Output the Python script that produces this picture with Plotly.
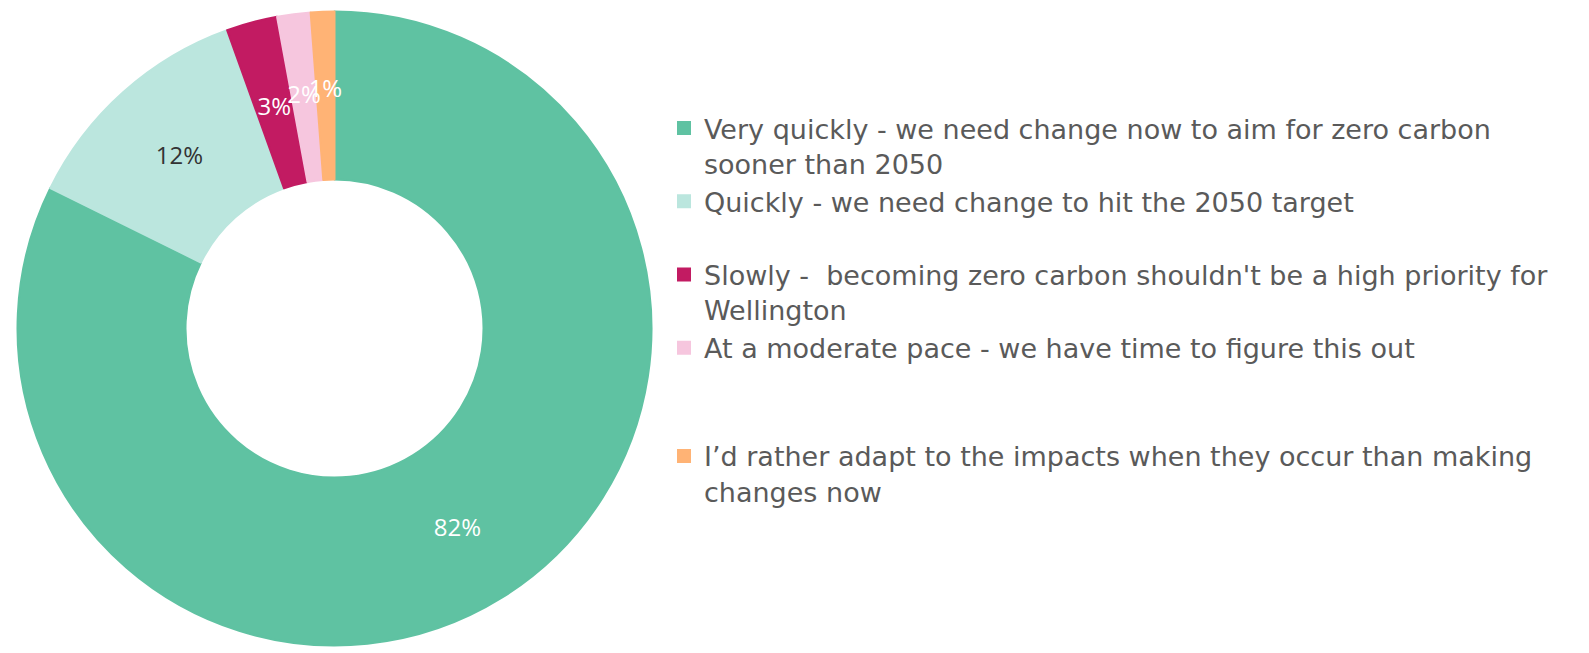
import plotly.graph_objects as go

categories = [
    "Very quickly - we need change now to aim for zero carbon<br>sooner than 2050",
    "Quickly - we need change to hit the 2050 target<br>\u00a0",
    "Slowly -\u00a0\u00a0becoming zero carbon shouldn't be a high priority for<br>Wellington",
    "At a moderate pace - we have time to figure this out<br>\u00a0<br>\u00a0",
    "I\u2019d rather adapt to the impacts when they occur than making<br>changes now",
]
values = [82.3, 12.2, 2.6, 1.7, 1.2]
colors = ["#5FC2A2", "#BBE6DE", "#C21B62", "#F6C6DE", "#FFB375"]
label_colors = ["white", "#333333", "white", "white", "white"]
small_share = 5  # slices below this % get their label drawn at mid-ring

W, H = 1589, 653
cx, cy, R = 334.5, 328.5, 317
R_small = 250

pct = [f"{round(v)}%" for v in values]
big_text = [t if v >= small_share else "" for t, v in zip(pct, values)]
small_text = [t if v < small_share else "" for t, v in zip(pct, values)]


def dom(r):
    return dict(x=[(cx - r) / W, (cx + r) / W], y=[(H - cy - r) / H, (H - cy + r) / H])


fig = go.Figure()
fig.add_trace(go.Pie(
    labels=categories,
    values=values,
    text=big_text,
    textinfo="text",
    textposition="inside",
    insidetextorientation="horizontal",
    textfont=dict(family="Open Sans", size=24, color=label_colors),
    marker=dict(colors=colors, line=dict(color=colors, width=2)),
    hole=0.47,
    sort=False,
    direction="clockwise",
    rotation=0,
    domain=dom(R),
))
fig.add_trace(go.Pie(
    labels=categories,
    values=values,
    text=small_text,
    textinfo="text",
    textposition="inside",
    insidetextorientation="horizontal",
    textfont=dict(family="Open Sans", size=24, color=label_colors),
    marker=dict(colors=["rgba(0,0,0,0)"] * len(values), line=dict(width=0)),
    hole=0.6,
    sort=False,
    direction="clockwise",
    rotation=0,
    showlegend=False,
    hoverinfo="skip",
    domain=dom(R_small),
))

fig.update_layout(
    width=W, height=H,
    margin=dict(l=0, r=0, t=0, b=0),
    paper_bgcolor="white",
    plot_bgcolor="white",
    uniformtext=dict(minsize=24, mode="show"),
    showlegend=True,
    legend=dict(
        x=664 / W, xanchor="left",
        y=1 - 104 / H, yanchor="top",
        valign="top",
        traceorder="normal",
        font=dict(family="DejaVu Sans", size=27, color="#5A5A5A"),
        bgcolor="rgba(0,0,0,0)",
    ),
)

fig.write_html(
    "out.html",
    config={"displayModeBar": False},
    post_script="document.body.style.margin='0';document.body.style.overflow='hidden';",
)
